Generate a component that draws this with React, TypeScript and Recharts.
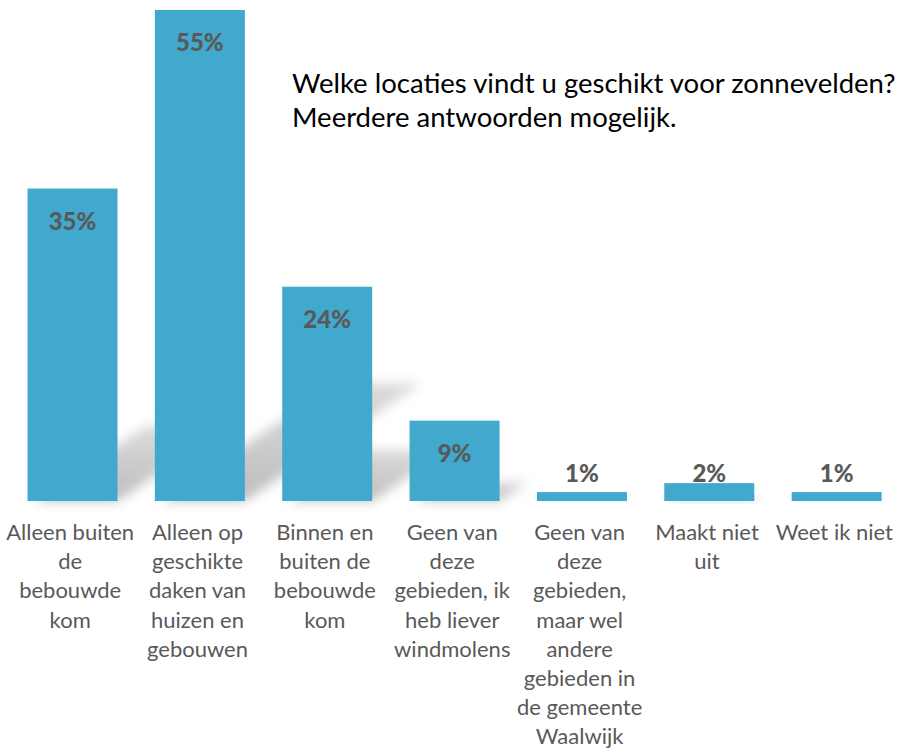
import { BarChart, Bar, XAxis, YAxis, LabelList } from 'recharts';

const labelLines: string[][] = [
  ['Alleen buiten', 'de', 'bebouwde', 'kom'],
  ['Alleen op', 'geschikte', 'daken van', 'huizen en', 'gebouwen'],
  ['Binnen en', 'buiten de', 'bebouwde', 'kom'],
  ['Geen van', 'deze', 'gebieden, ik', 'heb liever', 'windmolens'],
  ['Geen van', 'deze', 'gebieden,', 'maar wel', 'andere', 'gebieden in', 'de gemeente', 'Waalwijk'],
  ['Maakt niet', 'uit'],
  ['Weet ik niet'],
];
const categories = labelLines.map((l) => l.join(' '));
const percentages = [35, 55, 24, 9, 1, 2, 1];
const titleLines = ['Welke locaties vindt u geschikt voor zonnevelden?', 'Meerdere antwoorden mogelijk.'];

const data = categories.map((name, i) => ({ name, value: percentages[i] }));

const FONT = 'Lato, "Open Sans", sans-serif';
const BAR_COLOR = '#41A8CE';

const CategoryTick = ({ x, y, payload }: any) => {
  const lines = labelLines[payload.index] || [];
  return (
    <g>
      {lines.map((line, i) => (
        <text
          key={i}
          x={x - 2}
          y={y + 31 + i * 29.2}
          textAnchor="middle"
          fill="#595959"
          fontSize={22}
          fontFamily={FONT}
        >
          {line}
        </text>
      ))}
    </g>
  );
};

// bar with a soft perspective shadow falling to the right
const ShadowBar = (props: any) => {
  const { x, y, width, height, fill } = props;
  const base = y + height;
  const dy = height * 0.24;
  const dx = height * 0.36;
  return (
    <g>
      <polygon
        points={`${x + 6},${base} ${x + width},${base} ${x + width + dx},${base - dy} ${x + dx + 6},${base - dy}`}
        fill="url(#shadowFade)"
        filter="url(#shadowBlur)"
      />
      <rect x={x} y={y} width={width} height={height} fill={fill} />
    </g>
  );
};

const ValueLabel = (props: any) => {
  const { x, y, width, height, value } = props;
  const baseline = height > 50 ? y + 41 : y + height - 19;
  return (
    <text
      x={x + width / 2}
      y={baseline}
      textAnchor="middle"
      fill="#595959"
      fontSize={24}
      fontWeight={900}
      fontFamily={FONT}
    >
      {value}%
    </text>
  );
};

export default function App() {
  return (
    <div style={{ position: 'absolute', left: 0, top: 0, width: 897, height: 750, overflow: 'hidden', background: '#fff' }}>
      <BarChart
        width={900}
        height={750}
        data={data}
        margin={{ top: 10, right: 0, left: 8.5, bottom: 0 }}
        barSize={90}
      >
        <defs>
          <filter id="shadowBlur" x="-50%" y="-50%" width="200%" height="200%">
            <feGaussianBlur stdDeviation="6" />
          </filter>
          <linearGradient id="shadowFade" x1="0" y1="1" x2="0" y2="0">
            <stop offset="0%" stopColor="#000" stopOpacity={0.26} />
            <stop offset="100%" stopColor="#000" stopOpacity={0.14} />
          </linearGradient>
        </defs>
        <XAxis
          dataKey="name"
          axisLine={false}
          tickLine={false}
          interval={0}
          height={249}
          tick={<CategoryTick />}
        />
        <YAxis hide domain={[0, 55]} />
        <Bar dataKey="value" fill={BAR_COLOR} shape={<ShadowBar />} isAnimationActive={false}>
          <LabelList dataKey="value" content={<ValueLabel />} />
        </Bar>
      </BarChart>
      <div
        style={{
          position: 'absolute',
          left: 292,
          top: 66,
          fontFamily: FONT,
          fontSize: 27.5,
          lineHeight: '34px',
          color: '#000',
          whiteSpace: 'nowrap',
        }}
      >
        {titleLines.map((t, i) => (
          <div key={i}>{t}</div>
        ))}
      </div>
    </div>
  );
}
